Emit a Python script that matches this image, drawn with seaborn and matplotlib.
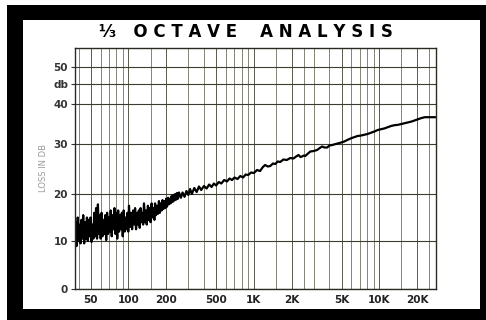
import numpy as np
import matplotlib
matplotlib.use("Agg")
import matplotlib.pyplot as plt
import seaborn as sns
from matplotlib.patches import Rectangle
from matplotlib.ticker import FixedLocator, NullFormatter

# frequency (Hz) and loss (dB)
freq = [37.5, 38.1, 38.8, 39.4, 40.1, 40.8, 41.5, 42.2, 42.9, 43.6,
        44.4, 45.1, 45.9, 46.7, 47.5, 48.3, 49.1, 49.9, 50.8, 51.6,
        52.5, 53.4, 54.3, 55.2, 56.2, 57.1, 58.1, 59.1, 60.1, 61.1,
        62.1, 63.2, 64.3, 65.4, 66.5, 67.6, 68.8, 69.9, 71.1, 72.3,
        73.6, 74.8, 76.1, 77.4, 78.7, 80.1, 81.4, 82.8, 84.2, 85.7,
        87.1, 88.6, 90.1, 91.7, 93.2, 94.8, 96.4, 98.1, 99.7, 101,
        103, 105, 107, 109, 111, 113, 115, 117, 119, 121,
        123, 125, 127, 129, 131, 133, 136, 138, 140, 143,
        145, 148, 150, 153, 155, 158, 161, 163, 166, 169,
        172, 175, 178, 181, 184, 187, 190, 193, 196, 200,
        203, 207, 210, 214, 217, 221, 225, 228, 232, 236,
        240, 244, 248, 253, 262, 270, 280, 290,
        300, 310, 320, 335, 350, 365, 380, 400, 420, 440,
        460, 480, 500, 525, 550, 580, 610, 640, 670, 700,
        740, 780, 820, 860, 900, 950, 1000, 1060, 1120, 1180,
        1230, 1290, 1350, 1420, 1480, 1550, 1620, 1720, 1830, 1950,
        2070, 2170, 2270, 2350, 2420, 2500, 2570, 2700, 2820, 3000,
        3190, 3350, 3500, 3650, 3840, 4000, 4210, 4500, 4760, 5000,
        5230, 5550, 5920, 6300, 6700, 7100, 7580, 8050, 8580, 9100,
        9710, 10300, 11000, 11700, 12400, 13200, 14100, 15000, 15900, 17000,
        18000, 19200, 20400, 21700, 23100, 24500, 26100, 28000]
loss = [8.5, 14.0, 9.0, 15.0, 10.0, 13.5, 9.5, 14.5, 10.5, 15.5,
        9.5, 14.0, 10.5, 15.0, 10.0, 14.5, 11.0, 15.0, 9.8, 13.5,
        10.5, 16.0, 11.0, 17.0, 10.5, 17.8, 11.5, 15.5, 10.5, 16.0,
        11.0, 14.5, 11.5, 15.5, 10.2, 16.0, 11.5, 15.0, 12.0, 16.5,
        11.0, 15.5, 12.5, 17.0, 11.5, 16.0, 10.5, 16.5, 12.0, 15.5,
        12.5, 16.0, 11.0, 16.5, 12.0, 15.0, 12.5, 16.0, 12.0, 17.5,
        13.0, 16.0, 12.5, 16.5, 13.5, 17.0, 12.5, 16.0, 13.5, 16.5,
        12.8, 17.0, 14.0, 16.0, 13.5, 18.0, 14.0, 16.5, 13.5, 17.5,
        14.5, 17.0, 14.0, 18.0, 15.0, 17.0, 14.5, 18.0, 15.5, 17.5,
        15.8, 18.5, 16.0, 18.0, 16.5, 18.7, 16.8, 18.5, 17.0, 19.0,
        17.3, 19.2, 17.8, 19.0, 18.0, 19.6, 18.3, 19.8, 18.6, 20.0,
        18.8, 20.2, 19.0, 20.3, 19.2, 20.3, 19.4, 20.6,
        19.8, 21.0, 20.0, 21.2, 20.4, 21.5, 20.8, 21.6, 21.1, 21.9,
        21.4, 22.1, 21.7, 22.4, 22.1, 22.8, 22.5, 23.1, 22.8, 23.3,
        23.0, 23.6, 23.3, 23.9, 23.8, 24.3, 24.2, 24.8, 24.6, 25.4,
        25.8, 25.5, 25.6, 26.1, 26.0, 26.5, 26.4, 26.9, 26.8, 27.2,
        27.1, 27.5, 27.8, 27.4, 27.5, 27.7, 27.6, 28.1, 28.5, 28.6,
        28.8, 29.2, 29.5, 29.3, 29.3, 29.7, 29.8, 30.0, 30.2, 30.4,
        30.6, 31.0, 31.4, 31.7, 32.0, 32.1, 32.3, 32.5, 32.8, 33.1,
        33.5, 33.7, 33.9, 34.2, 34.5, 34.7, 34.8, 35.0, 35.2, 35.4,
        35.6, 35.9, 36.2, 36.5, 36.7, 36.7, 36.7, 36.7]

x_ticks = [50, 100, 200, 500, 1000, 2000, 5000, 10000, 20000]
x_labels = ["50", "100", "200", "500", "1K", "2K", "5K", "10K", "20K"]
x_minor = [40, 60, 70, 80, 90, 150, 300, 400, 600, 700, 800, 900,
           1500, 2500, 3000, 4000, 6000, 7000, 8000, 9000, 15000, 25000]
y_ticks = [0, 10, 20, 30, 40, 45, 50]
y_labels = ["0", "10", "20", "30", "40", "db", "50"]

# the printed chart paper has an uneven dB ruling
y_levels = [0, 10, 20, 30, 40, 45, 50, 55]
y_heights = [0, 48, 95, 145, 185, 205, 222, 241]


def fwd(v):
    return np.interp(v, y_levels, y_heights)


def inv(h):
    return np.interp(h, y_heights, y_levels)


sns.set_style("white")
fig = plt.figure(figsize=(4.86, 3.2), dpi=100)
fig.patch.set_facecolor("white")

# black mount around the chart card
fig.patches.append(Rectangle((7 / 486, 0), 1, 315 / 320, transform=fig.transFigure,
                             facecolor="black", edgecolor="none", zorder=-10))
fig.patches.append(Rectangle((23 / 486, 11 / 320), 457 / 486, 289 / 320,
                             transform=fig.transFigure, facecolor="white",
                             edgecolor="none", zorder=-9))

ax = fig.add_axes([75 / 486, 31 / 320, 361 / 486, 241 / 320])
ax.set_facecolor("white")

sns.lineplot(x=freq, y=loss, ax=ax, color="black", linewidth=1.6,
             estimator=None, sort=False)

ax.set_xscale("log")
ax.set_yscale("function", functions=(fwd, inv))
ax.set_xlim(37.5, 28300)
ax.set_ylim(0, 55)

ax.xaxis.set_major_locator(FixedLocator(x_ticks))
ax.set_xticklabels(x_labels)
ax.xaxis.set_minor_locator(FixedLocator(x_minor))
ax.xaxis.set_minor_formatter(NullFormatter())
ax.yaxis.set_major_locator(FixedLocator(y_ticks))
ax.set_yticklabels(y_labels)
ax.yaxis.set_minor_locator(FixedLocator([]))

ax.grid(True, which="major", axis="y", color="#3c3c32", linewidth=0.8)
ax.grid(True, which="major", axis="x", color="#5a5a4c", linewidth=0.7)
ax.grid(True, which="minor", axis="x", color="#707060", linewidth=0.6)

ax.tick_params(axis="x", which="both", length=0, pad=4, labelsize=7.5,
               labelcolor="#222222")
ax.tick_params(axis="y", which="major", length=3, width=0.8, color="#333333",
               pad=2, labelsize=7.5, labelcolor="#333333", left=True)
for lab in ax.get_xticklabels() + ax.get_yticklabels():
    lab.set_fontweight("bold")

for s in ax.spines.values():
    s.set_color("#2a2a22")
    s.set_linewidth(1.0)

ax.set_xlabel("")
ax.set_ylabel("LOSS IN DB", fontsize=6, color="#9a9a9a", labelpad=4)

fig.text(246 / 486, 1 - 32 / 320, "⅓   O C T A V E    A N A L Y S I S",
         ha="center", va="center", fontsize=12, fontweight="bold", color="black")

fig.savefig("out.png", dpi=100)
